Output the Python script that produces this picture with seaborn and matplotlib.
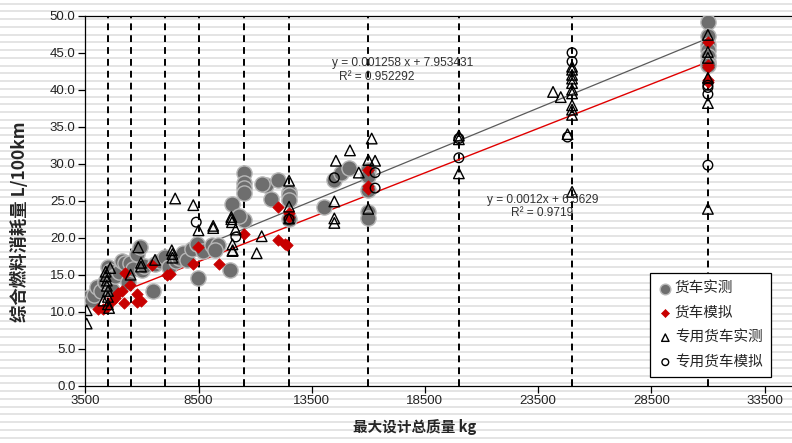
import numpy as np
import pandas as pd
import matplotlib
matplotlib.use("Agg")
import matplotlib.pyplot as plt
import seaborn as sns

# ---- data -------------------------------------------------------------
# 货车实测 (measured, trucks)
truck_meas_x = [3560, 3780, 3900, 4000, 4200, 4350, 4520, 4520, 4600, 4700,
                4800, 5000, 5100, 5250, 5470, 5400, 5600, 5800, 5900, 6000,
                6100, 6500, 6600, 6800, 7020, 7200, 7500, 7650, 7830, 8000,
                8200, 8420, 8490, 8700, 9080, 9370, 9250, 9890, 10000, 10500,
                10500, 10500, 10500, 10500, 10300, 11470, 11300, 11700, 12000, 12500,
                12500, 12500, 12500, 14050, 14500, 14800, 15150, 16000, 16000, 16000,
                16000, 16000,
                31000, 31000, 31000, 31000, 31000, 31000, 31000]
truck_meas_y = [11.8, 11.6, 12.2, 13.4, 12.8, 14.0, 16.1, 14.3, 15.5, 13.0,
                14.8, 15.3, 16.8, 16.6, 16.6, 14.0, 15.8, 17.8, 18.8, 15.6,
                16.2, 12.8, 16.5, 16.9, 17.4, 16.0, 16.8, 17.3, 17.9, 17.0,
                18.5, 19.2, 14.5, 18.2, 19.0, 19.0, 18.4, 15.6, 24.6, 28.7,
                27.4, 26.7, 26.0, 22.4, 22.9, 27.1, 27.3, 25.2, 27.8, 26.2,
                25.8, 25.1, 22.5, 24.1, 27.8, 28.7, 29.4, 29.1, 28.3, 26.4,
                23.5, 22.7,
                49.1, 47.2, 46.0, 45.3, 44.6, 43.8, 43.3]

# 货车模拟 (simulated, trucks)
truck_sim_x = [4070, 4270, 4450, 4700, 4810, 4960, 5100, 5220, 5250, 5470,
               5770, 5800, 5950, 6430, 7090, 7240, 8240, 8490, 9420, 10500,
               11990, 12030, 12300, 12400, 12500, 12500, 16000, 16000, 16000,
               31000, 31000, 31000, 31000, 31000]
truck_sim_y = [10.3, 10.4, 10.7, 11.5, 11.9, 12.5, 12.8, 11.2, 15.2, 13.6,
               12.35, 11.35, 11.5, 16.3, 15.0, 15.1, 16.5, 18.8, 16.4, 20.5,
               24.1, 19.7, 19.1, 19.0, 23.3, 22.8, 29.1, 27.0, 26.6,
               46.4, 43.3, 43.1, 41.3, 41.1]

# 专用货车实测 (measured, special-purpose trucks)
special_meas_x = [3560, 3560, 4400, 4400, 4450, 4450, 4500, 4500, 4500, 4550,
                  4600, 4300, 5500, 5840, 5960, 5960, 6580, 7320, 7350, 7350,
                  7470, 8270, 8500, 9150, 9150, 10010, 9950, 9950, 9980, 10140,
                  10000, 10000, 11070, 11290, 12500, 12500, 12500, 14500, 14570, 14500,
                  14500, 15190, 15580, 16150, 16000, 16300, 16000,
                  20000, 20000, 20000,
                  25000, 25000, 25000, 25000, 25000, 25000, 25000, 24160, 24500, 25000,
                  25000, 25000, 24800, 25000,
                  31000, 31000, 31000, 31000, 31000, 31000]
special_meas_y = [10.2, 8.4, 15.4, 14.8, 14.2, 13.5, 12.8, 12.0, 11.0, 10.5,
                  15.9, 11.5, 15.0, 18.7, 16.6, 16.1, 17.0, 18.3, 17.8, 17.3,
                  25.3, 24.4, 21.0, 21.3, 21.6, 18.3, 22.8, 22.5, 22.1, 21.1,
                  19.1, 18.2, 17.9, 20.2, 27.7, 24.2, 22.6, 24.9, 30.4, 22.6,
                  22.0, 31.8, 28.8, 33.4, 30.5, 30.4, 23.9,
                  33.8, 33.3, 28.7,
                  43.1, 42.7, 42.0, 41.5, 40.9, 40.0, 39.5, 39.7, 39.0, 37.9,
                  37.3, 36.6, 34.0, 26.2,
                  47.4, 45.1, 44.3, 41.6, 38.2, 23.9]

# 专用货车模拟 (simulated, special-purpose trucks)
special_sim_x = [8400, 10150, 12500, 14500, 16300, 16300, 20000, 20000,
                 25000, 25000, 24800, 31000, 31000, 31000, 31000]
special_sim_y = [22.1, 20.1, 22.5, 28.1, 28.8, 26.7, 33.4, 30.8,
                 45.0, 43.8, 33.6, 40.6, 40.3, 39.4, 29.8]

# vehicle mass classes (dashed reference lines)
mass_classes = [4500, 5500, 7000, 8500, 10500, 12500, 16000, 20000, 25000, 31000]

# linear trend lines: slope, intercept
trend_meas = (0.001258, 7.953431)
trend_sim = (0.0012, 6.5629)
trend_span = [3500, 31000]

x_ticks = [3500, 8500, 13500, 18500, 23500, 28500, 33500]
y_ticks = [0, 5, 10, 15, 20, 25, 30, 35, 40, 45, 50]

# ---- style ------------------------------------------------------------
sns.set_theme(style="white")
cjk = "Noto Sans CJK SC"
plt.rcParams["font.family"] = ["Liberation Sans", cjk, "DejaVu Sans"]
plt.rcParams["axes.unicode_minus"] = False

W, H = 792, 443
fig = plt.figure(figsize=(W / 100, H / 100), dpi=100)
fig.patch.set_facecolor("white")

# ruled background
bg = fig.add_axes([0, 0, 1, 1], zorder=-5)
bg.set_xlim(0, 1)
bg.set_ylim(H, 0)
bg.axis("off")
for yy in np.arange(3.5, H, 7.75):
    bg.axhline(yy, color="#e2e2e2", lw=1.3)


def px_x(v):
    return 85.3 + (v - 3500) * 0.02264


ax_left = 85.3 / W
ax_right = px_x(35000) / W
ax_bottom = 1 - 385.7 / H
ax_top = 1 - 15.7 / H
ax = fig.add_axes([ax_left, ax_bottom, ax_right - ax_left, ax_top - ax_bottom])
ax.patch.set_alpha(0)

for xv in mass_classes:
    ax.axvline(xv, color="black", lw=1.4, ls=(0, (3.5, 2.6)), zorder=1)

tx = np.array(trend_span, dtype=float)
ax.plot(tx, trend_meas[0] * tx + trend_meas[1], color="#5a5a5a", lw=0.9, zorder=2)
ax.plot(tx, trend_sim[0] * tx + trend_sim[1], color="#e00000", lw=1.0, zorder=2)

d1 = pd.DataFrame({"x": truck_meas_x, "y": truck_meas_y})
d2 = pd.DataFrame({"x": truck_sim_x, "y": truck_sim_y})
d3 = pd.DataFrame({"x": special_meas_x, "y": special_meas_y})
d4 = pd.DataFrame({"x": special_sim_x, "y": special_sim_y})

sns.scatterplot(data=d1, x="x", y="y", ax=ax, marker="o", s=120, color="#6e6e6e",
                edgecolor="#b8b8b8", linewidth=1.0, label="货车实测", zorder=3)
sns.scatterplot(data=d2, x="x", y="y", ax=ax, marker="D", s=34, color="#c80000",
                edgecolor="#c80000", linewidth=0.5, label="货车模拟", zorder=4)
sns.scatterplot(data=d3, x="x", y="y", ax=ax, marker="^", s=58, facecolor="none",
                edgecolor="black", linewidth=1.0, label="专用货车实测", zorder=5)
sns.scatterplot(data=d4, x="x", y="y", ax=ax, marker="o", s=48, facecolor="none",
                edgecolor="black", linewidth=1.0, label="专用货车模拟", zorder=5)

ax.set_xlim(3500, 35000)
ax.set_ylim(0, 50)
ax.set_xticks(x_ticks)
ax.set_yticks(y_ticks)
ax.set_yticklabels([f"{v:.1f}" for v in y_ticks])
ax.set_xlabel("")
ax.set_ylabel("")
ax.tick_params(axis="both", direction="out", length=5, width=0.9, color="black",
               labelsize=9.5, labelcolor="#222222", pad=2, bottom=True, left=True)
for side in ["left", "bottom", "top"]:
    ax.spines[side].set_visible(True)
    ax.spines[side].set_color("black")
    ax.spines[side].set_linewidth(0.9)
ax.spines["right"].set_visible(False)
ax.grid(False)

# trend equations
eq_kw = dict(ha="center", va="center", fontsize=8.6, color="#333333", zorder=6)
ax.text(17530, 43.6, "y = 0.001258 x + 7.953431", **eq_kw)
ax.text(16380, 41.7, "R² = 0.952292", **eq_kw)
ax.text(23720, 25.1, "y = 0.0012x + 6.5629", **eq_kw)
ax.text(23670, 23.3, "R² = 0.9719", **eq_kw)

leg = ax.legend(loc="lower left", bbox_to_anchor=(650 / W, 1 - 377 / H),
                bbox_transform=fig.transFigure, borderaxespad=0, frameon=True,
                fancybox=False, edgecolor="black", facecolor="white", framealpha=1,
                prop={"family": [cjk], "size": 10.5}, labelspacing=0.72,
                handlelength=1.0, handletextpad=0.15, borderpad=0.55, markerscale=0.7)
leg.get_frame().set_linewidth(0.9)
leg.set_zorder(10)

fig.text(415 / W, 1 - 427 / H, "最大设计总质量 kg", ha="center", va="center",
         fontsize=10.5, fontweight="bold", family=[cjk])
fig.text(20 / W, 1 - 222 / H, "综合燃料消耗量 L/100km", ha="center", va="center",
         rotation=90, fontsize=12.5, fontweight="bold", family=[cjk])

fig.savefig("out.png", dpi=100, facecolor="white")
